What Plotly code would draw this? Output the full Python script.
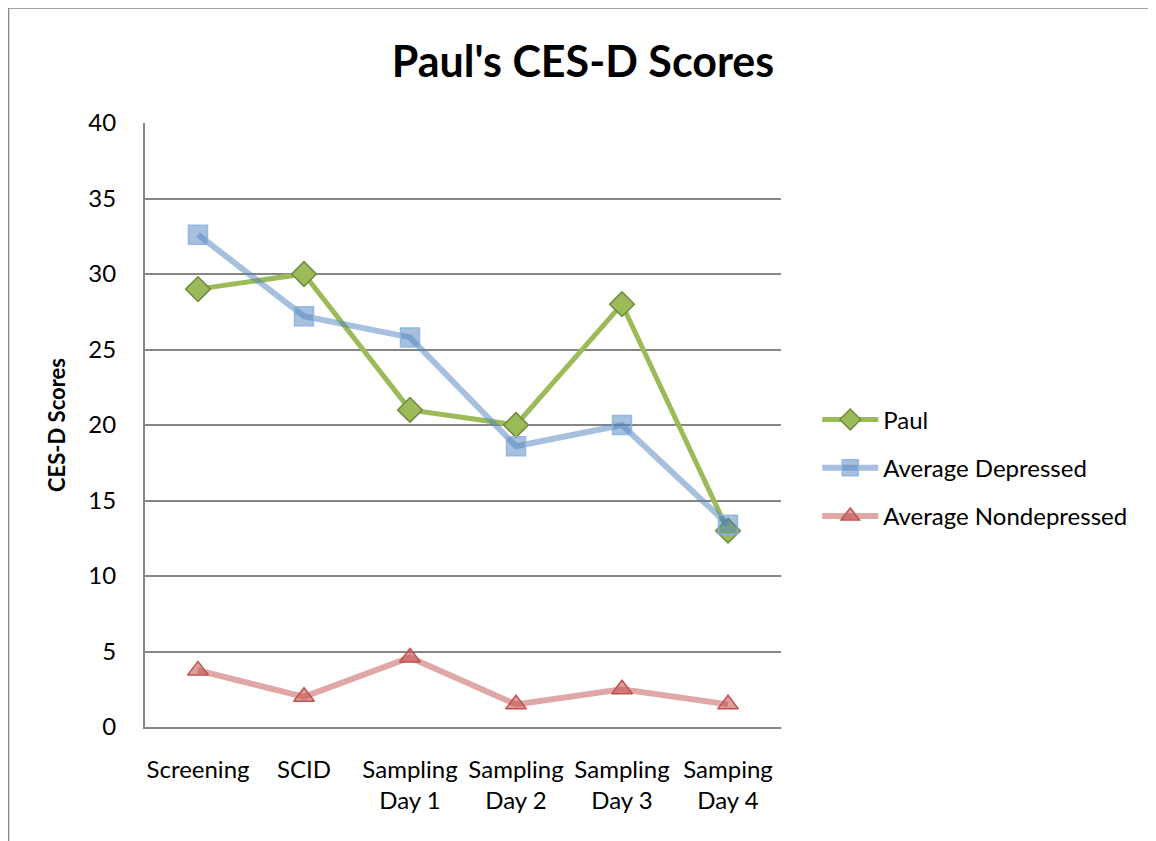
import plotly.graph_objects as go

stages = ["Screening", "SCID", "Sampling<br>Day 1", "Sampling<br>Day 2", "Sampling<br>Day 3", "Samping<br>Day 4"]
paul = [29, 30, 21, 20, 28, 13]
avg_depressed = [32.6, 27.2, 25.8, 18.6, 20.0, 13.4]
avg_nondepressed = [3.75, 2.0, 4.6, 1.5, 2.5, 1.5]

FONT = "Lato"

fig = go.Figure()

fig.add_trace(go.Scatter(
    x=stages, y=paul, name="Paul", mode="lines+markers", legendgroup="a",
    line=dict(color="#9BBB59", width=5),
    marker=dict(symbol="diamond", size=19, color="#9BBB59",
                line=dict(color="#71893F", width=1.5)),
))
fig.add_trace(go.Scatter(
    x=stages, y=avg_depressed, name="Average Depressed", mode="lines+markers", legendgroup="b",
    line=dict(color="rgba(79,129,189,0.5)", width=6),
    marker=dict(symbol="square", size=19, color="rgba(79,129,189,0.5)",
                line=dict(color="rgba(141,180,226,0.9)", width=1.5)),
))
fig.add_trace(go.Scatter(
    x=stages, y=avg_nondepressed, name="Average Nondepressed", mode="lines+markers", legendgroup="c",
    line=dict(color="rgba(192,80,77,0.5)", width=6),
    marker=dict(symbol="triangle-up", size=18, color="rgba(192,80,77,0.55)",
                line=dict(color="#C0504D", width=1.5)),
))

# chart border like the spreadsheet frame
fig.add_shape(type="rect", xref="paper", yref="paper",
              x0=(0 - 137) / 636, x1=1.8, y0=-0.4, y1=(719 + 0.5) / 604,
              line=dict(color="#878787", width=2.5), fillcolor="rgba(0,0,0,0)")

fig.update_layout(
    width=1156, height=841,
    margin=dict(l=137, r=383, t=115, b=122),
    paper_bgcolor="white", plot_bgcolor="white",
    font=dict(family=FONT, size=24, color="black"),
    title=dict(text="<b>Paul's CES-D Scores</b>", font=dict(size=43, family=FONT),
               x=575 / 1156, xref="container", xanchor="center",
               y=1 - 54 / 841, yref="container", yanchor="middle"),
    legend=dict(x=1.057, y=0.429, xanchor="left", yanchor="middle",
                font=dict(size=24, family=FONT), tracegroupgap=14,
                itemwidth=56),
    showlegend=True,
)

fig.update_xaxes(
    range=[-0.5, 5.5],
    showline=True, linecolor="#868686", linewidth=2,
    showgrid=False, ticks="", ticklabelstandoff=20,
    tickfont=dict(size=24),
)
fig.update_yaxes(
    range=[0, 40], dtick=5, showline=True, linecolor="#868686", linewidth=2,
    showgrid=True, gridcolor="#868686", gridwidth=2, zeroline=False,
    ticks="", ticklabelstandoff=22, tickfont=dict(size=24),
    title=dict(text="<b>CES-D Scores</b>", font=dict(size=22), standoff=17),
)

fig.write_html("out.html")
